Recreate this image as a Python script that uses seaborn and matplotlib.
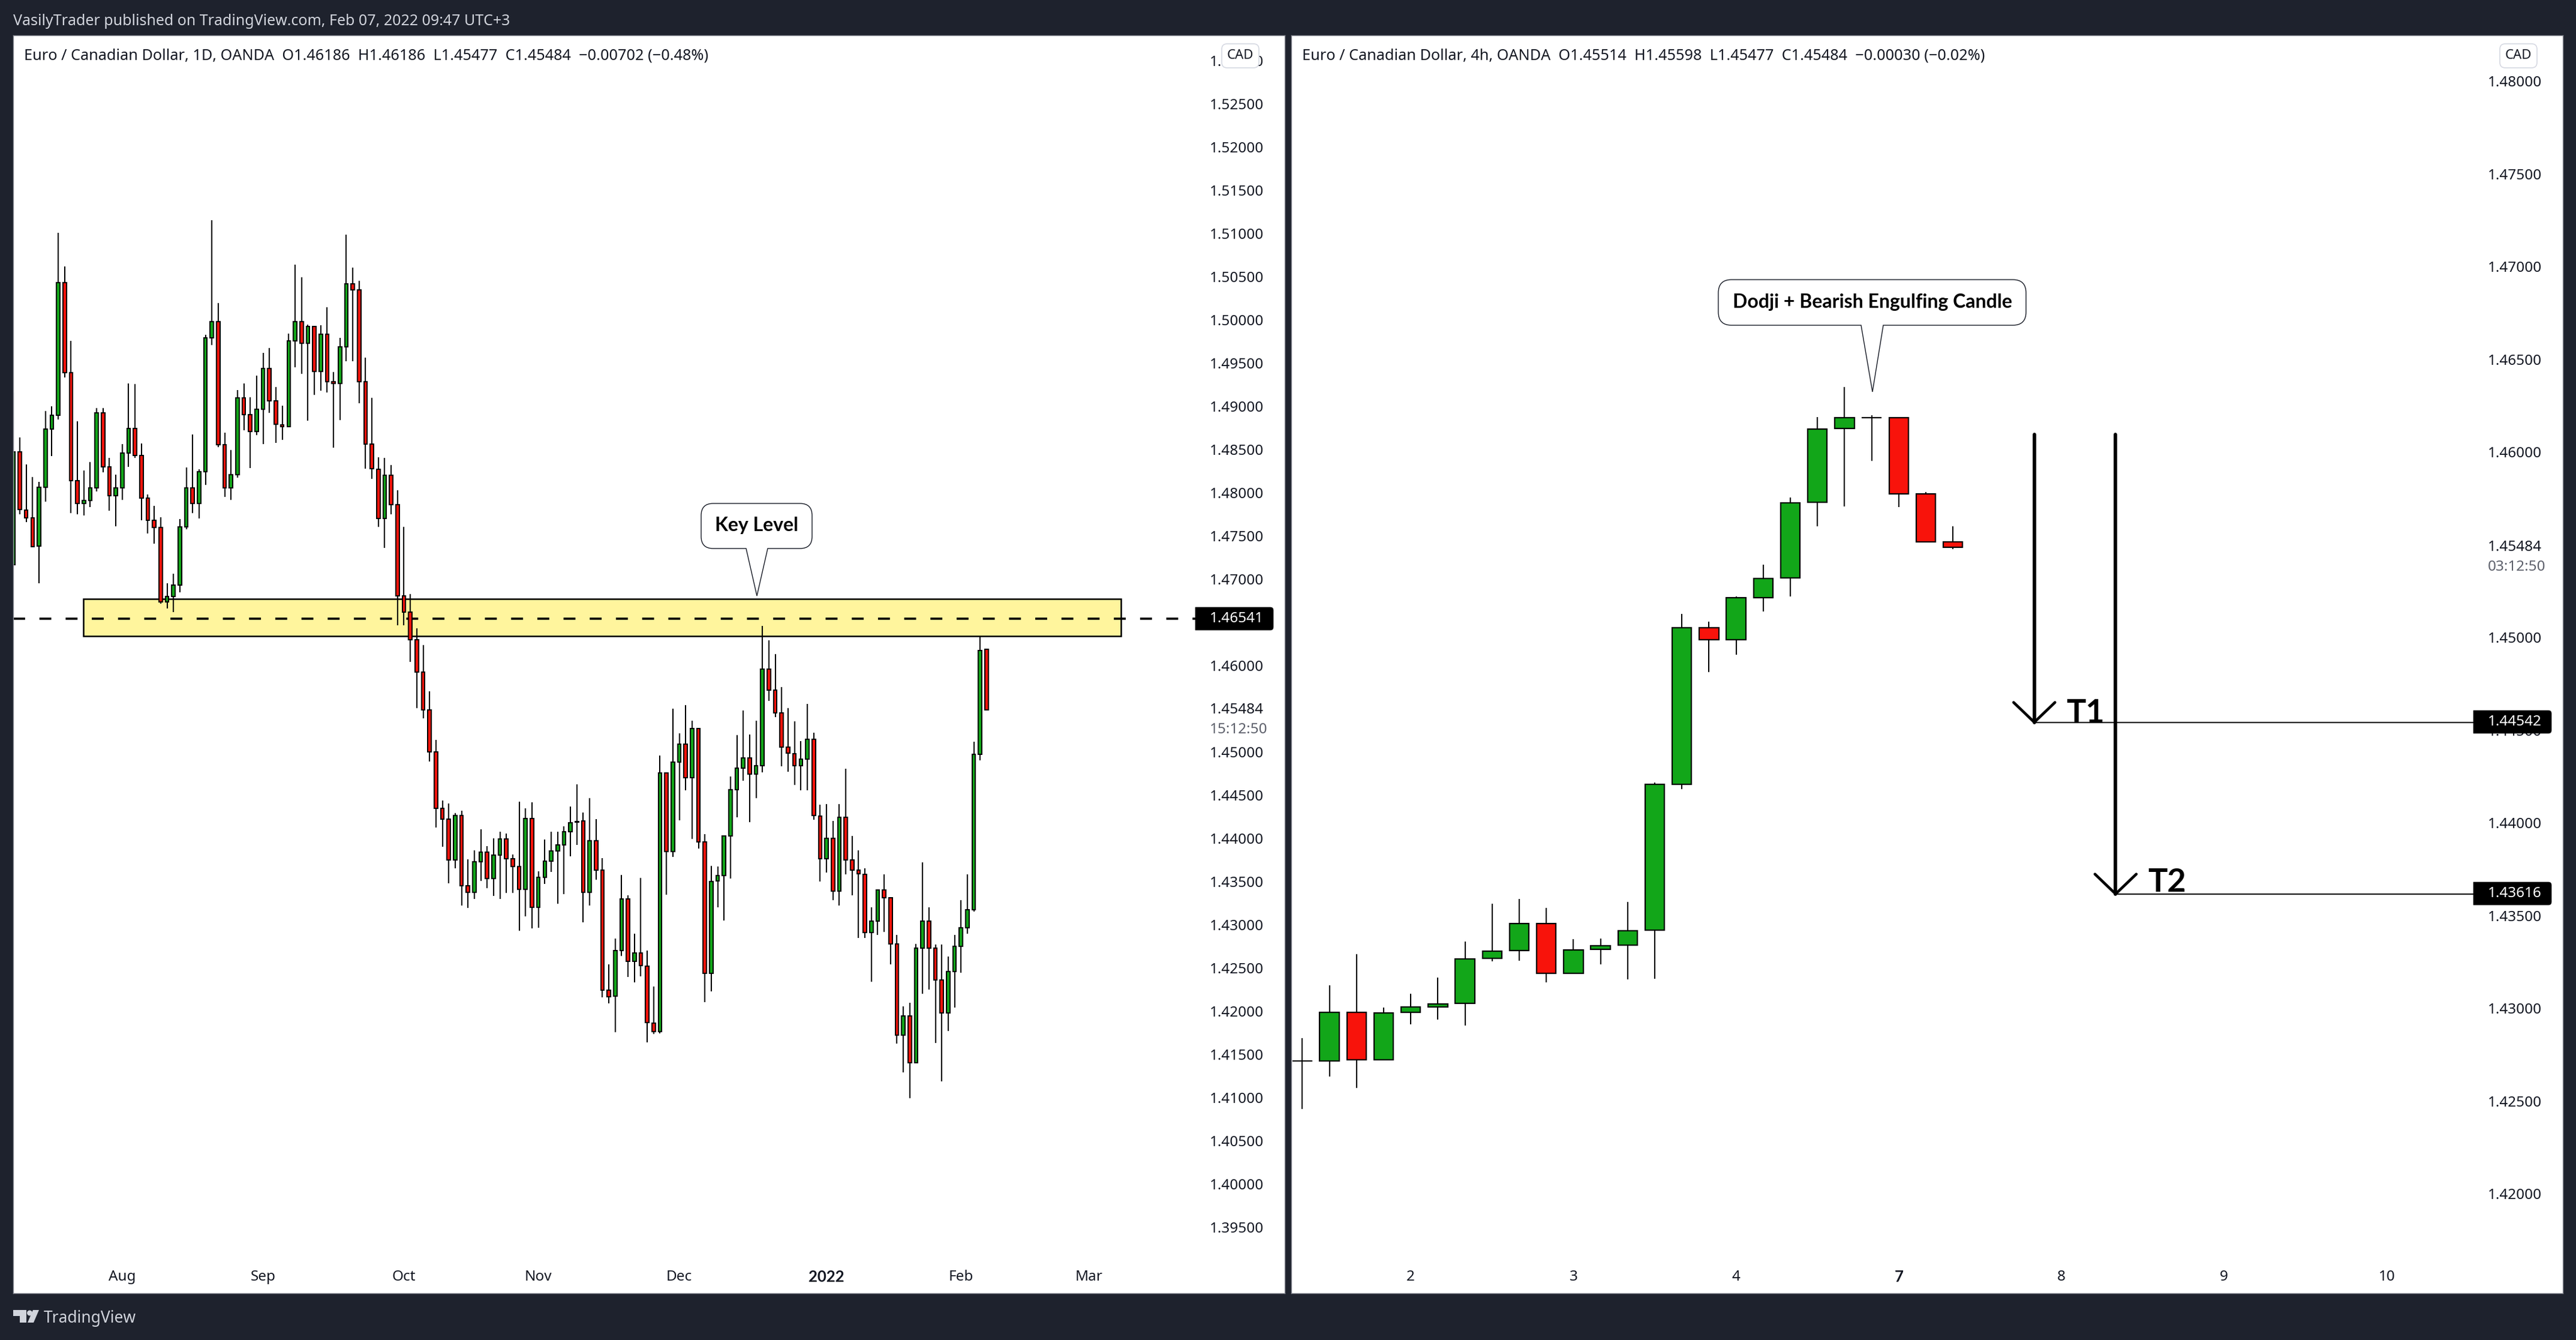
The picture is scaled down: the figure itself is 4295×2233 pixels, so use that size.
import numpy as np
import matplotlib
matplotlib.use("Agg")
import matplotlib.pyplot as plt
from matplotlib.path import Path
from matplotlib.patches import PathPatch, Rectangle, Circle, Polygon
from matplotlib.transforms import Affine2D
import seaborn as sns

# ---------- daily chart values (prices) ----------
d1_open = [1.47168,1.48472,1.47802,1.47707,1.47381,1.48064,1.48734,1.48897,1.50428,1.49386,
 1.48142,1.47877,1.47912,1.48054,1.48922,1.48302,1.47962,1.48054,1.48461,1.48741,
 1.48433,1.47940,1.47678,1.47600,1.46736,1.46796,1.46934,1.47607,1.48057,1.47877,
 1.48245,1.49790,1.49978,1.48553,1.48054,1.48206,1.49099,1.48900,1.48706,1.48968,
 1.49436,1.49060,1.48787,1.48766,1.49754,1.49978,1.49730,1.49921,1.49400,1.49836,
 1.49287,1.49265,1.49691,1.50420,1.50350,1.49287,1.48564,1.48273,1.47703,1.48199,
 1.47859,1.46807,1.46615,1.46296,1.45921,1.45489,1.45000,1.44348,1.44224,1.43753,
 1.44266,1.43448,1.43373,1.43731,1.43838,1.43533,1.43809,1.43990,1.43767,1.43671,
 1.43412,1.44227,1.43200,1.43551,1.43738,1.43852,1.43926,1.44078,1.44195,1.44199,
 1.43373,1.43969,1.43632,1.42240,1.42173,1.42704,1.43296,1.42576,1.42676,1.42523,
 1.41864,1.41765,1.44759,1.43848,1.44879,1.45088,1.44702,1.45269,1.43955,1.42438,
 1.43505,1.43572,1.44026,1.44561,1.44812,1.44933,1.44741,1.44837,1.45960,1.45712,
 1.45450,1.45053,1.44982,1.44837,1.44915,1.45149,1.44259,1.43767,1.43997,1.43388,
 1.44245,1.43753,1.43629,1.43586,1.42910,1.43044,1.43406,1.43310,1.42775,1.41723,
 1.41942,1.41404,1.42732,1.43044,1.42732,1.42364,1.41981,1.42456,1.42747,1.42963,
 1.43172,1.44975,1.46186]
d1_high = [1.49163,1.48642,1.48330,1.48181,1.48125,1.48943,1.49000,1.51009,1.50619,1.49758,
 1.48826,1.48256,1.48355,1.48978,1.48978,1.48404,1.48210,1.48564,1.49265,1.49258,
 1.48571,1.47976,1.47848,1.47714,1.46952,1.47062,1.47696,1.48291,1.48674,1.48270,
 1.49829,1.51154,1.50194,1.48695,1.48493,1.49187,1.49265,1.49102,1.49354,1.49620,
 1.49673,1.49223,1.49007,1.49839,1.50640,1.50491,1.49946,1.49921,1.49939,1.50144,
 1.49397,1.49793,1.50987,1.50605,1.50452,1.49563,1.49099,1.48408,1.48404,1.48319,
 1.48029,1.47604,1.46828,1.46431,1.46236,1.45701,1.45138,1.44436,1.44404,1.44291,
 1.44319,1.43756,1.43862,1.44103,1.43908,1.44001,1.44075,1.44057,1.43813,1.44422,
 1.44348,1.44415,1.43618,1.43986,1.44075,1.44075,1.44139,1.44369,1.44624,1.44298,
 1.44465,1.44224,1.43770,1.42541,1.42842,1.43576,1.43342,1.42895,1.43544,1.42700,
 1.42286,1.44957,1.44759,1.45499,1.45216,1.45542,1.45361,1.45269,1.44050,1.43682,
 1.43675,1.44026,1.44716,1.45195,1.45478,1.45202,1.45361,1.46456,1.46293,1.46134,
 1.45751,1.45507,1.45354,1.45124,1.45556,1.45223,1.44390,1.44398,1.44203,1.44398,
 1.44805,1.44029,1.43863,1.43654,1.43200,1.43406,1.43583,1.43310,1.42881,1.42059,
 1.42098,1.42778,1.43721,1.43200,1.42771,1.42771,1.42633,1.42881,1.43285,1.43583,
 1.45117,1.46339,1.46186]
d1_low = [1.47136,1.47749,1.47657,1.47366,1.46955,1.47898,1.48422,1.48847,1.49333,1.47763,
 1.47749,1.47735,1.47834,1.48015,1.48234,1.47792,1.47611,1.47916,1.48298,1.48404,
 1.47678,1.47529,1.47409,1.46714,1.46658,1.46615,1.46846,1.47579,1.47763,1.47703,
 1.48089,1.49708,1.48525,1.47951,1.47916,1.48174,1.48723,1.48284,1.48667,1.48564,
 1.48925,1.48578,1.48610,1.48755,1.49450,1.49375,1.48833,1.49131,1.49180,1.49159,
 1.48521,1.48840,1.49521,1.49521,1.49032,1.48277,1.48160,1.47604,1.47363,1.47749,
 1.46463,1.46463,1.46041,1.45510,1.45386,1.44886,1.44128,1.43905,1.43476,1.43650,
 1.43225,1.43193,1.43296,1.43505,1.43427,1.43331,1.43296,1.43366,1.43366,1.42934,
 1.43094,1.42955,1.42962,1.43469,1.43614,1.43246,1.43352,1.43795,1.43923,1.43030,
 1.43225,1.43519,1.42162,1.42087,1.41754,1.42637,1.42399,1.42336,1.42406,1.41638,
 1.41733,1.41740,1.43345,1.43788,1.44206,1.44553,1.43990,1.43880,1.42102,1.42229,
 1.43200,1.43051,1.43533,1.44242,1.44670,1.44189,1.44468,1.44766,1.45588,1.45400,
 1.44830,1.44773,1.44621,1.44553,1.44553,1.44213,1.43498,1.43607,1.43282,1.43225,
 1.43586,1.43338,1.42846,1.42846,1.42343,1.42885,1.42920,1.42545,1.41623,1.41290,
 1.40996,1.41393,1.42204,1.42247,1.41630,1.41184,1.41769,1.42045,1.42442,1.42899,
 1.43150,1.44901,1.45477]
d1_close = [1.48472,1.47806,1.47707,1.47377,1.48064,1.48734,1.48893,1.50428,1.49386,1.48142,
 1.47877,1.47912,1.48054,1.48922,1.48302,1.47962,1.48054,1.48461,1.48741,1.48433,
 1.47940,1.47678,1.47600,1.46736,1.46796,1.46934,1.47607,1.48057,1.47877,1.48245,
 1.49790,1.49978,1.48553,1.48054,1.48206,1.49099,1.48904,1.48706,1.48968,1.49436,
 1.49060,1.48791,1.48766,1.49754,1.49978,1.49730,1.49921,1.49400,1.49836,1.49287,
 1.49265,1.49687,1.50420,1.50350,1.49287,1.48564,1.48277,1.47703,1.48199,1.47862,
 1.46807,1.46619,1.46296,1.45921,1.45489,1.45000,1.44348,1.44224,1.43753,1.44266,
 1.43448,1.43373,1.43731,1.43838,1.43533,1.43809,1.43990,1.43767,1.43671,1.43412,
 1.44227,1.43200,1.43551,1.43738,1.43852,1.43926,1.44078,1.44178,1.44185,1.43373,
 1.43969,1.43632,1.42240,1.42169,1.42704,1.43296,1.42576,1.42676,1.42527,1.41868,
 1.41765,1.44759,1.43848,1.44879,1.45088,1.44702,1.45269,1.43958,1.42438,1.43501,
 1.43572,1.44026,1.44561,1.44812,1.44933,1.44741,1.44837,1.45960,1.45716,1.45450,
 1.45057,1.44986,1.44837,1.44915,1.45149,1.44263,1.43767,1.43997,1.43388,1.44245,
 1.43753,1.43629,1.43590,1.42910,1.43044,1.43406,1.43310,1.42775,1.41723,1.41942,
 1.41404,1.42732,1.43044,1.42732,1.42364,1.41981,1.42456,1.42747,1.42963,1.43172,
 1.44975,1.46176,1.45484]

# ---------- 4h chart values (prices) ----------
h4_open = [1.42717,1.42717,1.42978,1.42722,1.42978,1.43008,1.43026,1.43269,1.43310,1.43455,1.43188,1.43317,1.43340,
 1.43421,1.44208,1.45052,1.44987,1.45214,1.45320,1.45729,1.46126,1.46185,1.46185,1.45772,1.45514]
h4_high = [1.42838,1.43124,1.43292,1.43003,1.43077,1.43165,1.43360,1.43563,1.43589,1.43541,1.43373,1.43376,1.43573,
 1.44217,1.45126,1.45084,1.45221,1.45392,1.45755,1.46187,1.46350,1.46197,1.46185,1.45782,1.45598]
h4_low = [1.42455,1.42630,1.42569,1.42722,1.42914,1.42940,1.42907,1.43251,1.43257,1.43138,1.43188,1.43237,1.43157,
 1.43160,1.44180,1.44811,1.44905,1.45138,1.45221,1.45600,1.45704,1.45952,1.45701,1.45515,1.45477]
h4_close = [1.42717,1.42978,1.42722,1.42975,1.43008,1.43024,1.43267,1.43308,1.43455,1.43188,1.43315,1.43338,1.43419,
 1.44208,1.45052,1.44987,1.45213,1.45318,1.45726,1.46124,1.46184,1.46185,1.45773,1.45515,1.45484]

# ---------- axis labels and levels ----------
d1_yticks = [1.395,1.40,1.405,1.41,1.415,1.42,1.425,1.43,1.435,1.44,1.445,1.45,1.46,1.47,1.475,1.48,
             1.485,1.49,1.495,1.50,1.505,1.51,1.515,1.52,1.525,1.53]
h4_yticks = [1.42,1.425,1.43,1.435,1.44,1.445,1.45,1.46,1.465,1.47,1.475,1.48]
d1_xticks = [17,39,61,82,104,127,148,168]
d1_xlabels = ["Aug","Sep","Oct","Nov","Dec","2022","Feb","Mar"]
h4_xticks = [4,10,16,22,28,34,40]
h4_xlabels = ["2","3","4","7","8","9","10"]
key_level = 1.46541
zone_top, zone_bottom = 1.46774, 1.46340
t1_level, t2_level = 1.44542, 1.43616
arrow_top = 1.46094

W, H = 4295, 2233
DPI = 100
GREEN, RED = "#12a619", "#f8130b"
BG, LIGHT, INK = "#1e222d", "#d1d4dc", "#131722"
FONT, BOLD = "Noto Sans", "Lato"

sns.set_theme(style="white", rc={"font.family": FONT, "axes.grid": False, "figure.facecolor": BG,
                                 "axes.edgecolor": "#8a8d96", "axes.linewidth": 1.0,
                                 "xtick.color": INK, "ytick.color": INK})

fig = plt.figure(figsize=(W/DPI, H/DPI), dpi=DPI, facecolor=BG)
PX = Affine2D().scale(1, -1).translate(0, H)   # screen pixels, origin top-left


def panel(x0, y0, x1, y1):
    return fig.add_axes([x0/W, 1-y1/H, (x1-x0)/W, (y1-y0)/H])


def candles(ax, o, h, l, c, width, lw_body, lw_wick):
    o, h, l, c = map(np.asarray, (o, h, l, c))
    idx = np.arange(len(o))
    ax.vlines(idx, l, h, color="black", lw=lw_wick, zorder=1)
    sns.barplot(x=idx, y=np.abs(c-o), bottom=np.minimum(o, c), native_scale=True, errorbar=None,
                width=width, color=GREEN, saturation=1, edgecolor="black", linewidth=lw_body,
                zorder=2, ax=ax)
    for patch, op, cl in zip(ax.patches, o, c):
        patch.set_facecolor(RED if cl < op else GREEN)
    ax.set(xlabel="", ylabel="")


def axes_style(ax, xlim, ylim, yticks, xticks, xlabels, bold):
    ax.set_xlim(*xlim)
    ax.set_ylim(*ylim)
    ax.yaxis.tick_right()
    ax.set_yticks(yticks)
    ax.set_yticklabels([f"{t:.5f}" for t in yticks])
    ax.set_xticks(xticks)
    ax.set_xticklabels(xlabels)
    ax.tick_params(axis="y", length=0, pad=-90, labelsize=17.5)
    ax.tick_params(axis="x", length=0, pad=-28, labelsize=17.5)
    lab = ax.get_xticklabels()[bold]
    lab.set_fontfamily(BOLD)
    lab.set_fontweight("bold")
    lab.set_fontsize(18.5)
    ax.set_facecolor("white")


def round_box(x0, y0, x1, y1, rl, rr, tail=None):
    v = [(x0+rl, y0), (x1-rr, y0), (x1, y0), (x1, y0+rr), (x1, y1-rr), (x1, y1), (x1-rr, y1)]
    c = [Path.MOVETO, Path.LINETO, Path.CURVE3, Path.CURVE3, Path.LINETO, Path.CURVE3, Path.CURVE3]
    if tail:
        tx0, tx1, tipx, tipy = tail
        v += [(tx1, y1), (tipx, tipy), (tx0, y1)]
        c += [Path.LINETO]*3
    v += [(x0+rl, y1), (x0, y1), (x0, y1-rl), (x0, y0+rl), (x0, y0), (x0+rl, y0), (x0+rl, y0)]
    c += [Path.LINETO, Path.CURVE3, Path.CURVE3, Path.LINETO, Path.CURVE3, Path.CURVE3, Path.CLOSEPOLY]
    return Path(v, c)


def px_text(x, y, s, **kw):
    kw.setdefault("color", INK)
    kw.setdefault("va", "center")
    kw.setdefault("zorder", 8)
    return fig.text(x, y, s, transform=PX, **kw)


def px_patch(path, fc, ec, lw, z=6):
    fig.add_artist(PathPatch(path, facecolor=fc, edgecolor=ec, lw=lw, transform=PX, zorder=z))


def price_badge(x0, x1, yc, label):
    px_patch(round_box(x0, yc-19, x1, yc+19, 0, 5), "black", "black", 0.5)
    px_text(x0+24, yc, label, color="white", fontsize=17.5)


# ---------- daily panel ----------
ax1 = panel(22, 59, 2142, 2155)
d1_step = 10.675
candles(ax1, d1_open, d1_high, d1_low, d1_close, 0.53, 1.45, 1.5)
d1_xlim = (-0.03, (2142-22.3)/d1_step)
axes_style(ax1, d1_xlim, (1.38736, 1.53292), d1_yticks, d1_xticks, d1_xlabels, 5)
ax1.add_patch(Rectangle((10.93, zone_bottom), 173.0-10.93, zone_top-zone_bottom, facecolor="#fff59d",
                        edgecolor="black", lw=1.8, zorder=0.5))
sns.lineplot(x=[d1_xlim[0], (1993-22.3)/d1_step], y=[key_level, key_level], color="black", lw=2.6,
             dashes=False, zorder=0.8, ax=ax1, errorbar=None).lines[-1].set_dashes((5.5, 6.6))
ax1.set(xlabel="", ylabel="")

# ---------- 4h panel ----------
ax2 = panel(2153, 59, 4273, 2155)
h4_step = 45.2
candles(ax2, h4_open, h4_high, h4_low, h4_close, 0.72, 1.6, 1.5)
axes_style(ax2, ((2153-2171.4)/h4_step, (4273-2171.4)/h4_step), (1.41463, 1.48246),
           h4_yticks, h4_xticks, h4_xlabels, 3)
line_end = (4124-2171.4)/h4_step
head_dx, head_dy = 0.763, 0.00107
for xi, lvl in ((27, t1_level), (30, t2_level)):
    ax2.plot([xi, line_end], [lvl, lvl], color="black", lw=1.5, zorder=3)
    ax2.plot([xi, xi], [arrow_top, lvl], color="black", lw=4.2, zorder=3)
    ax2.plot([xi-head_dx, xi, xi+head_dx], [lvl+head_dy, lvl, lvl+head_dy], color="black", lw=3.3,
             zorder=3, solid_joinstyle="round")

# ---------- annotations ----------
px_text(22, 35, "VasilyTrader published on TradingView.com, Feb 07, 2022 09:47 UTC+3", color=LIGHT, fontsize=18)
px_text(40, 93, "Euro / Canadian Dollar, 1D, OANDA  O1.46186  H1.46186  L1.45477  C1.45484  \u22120.00702 (\u22120.48%)",
        fontsize=18.2)
px_text(2171, 93, "Euro / Canadian Dollar, 4h, OANDA  O1.45514  H1.45598  L1.45477  C1.45484  \u22120.00030 (\u22120.02%)",
        fontsize=18.2)

for x0 in (2037, 4168):
    px_patch(round_box(x0, 73, x0+62, 113, 9, 9), "white", "#d6d9e2", 1.2)
    px_text(x0+31, 92, "CAD", ha="center", fontsize=16)

price_badge(1993, 2123, 1031, f"{key_level:.5f}")
price_badge(4124, 4254, 1203, f"{t1_level:.5f}")
price_badge(4124, 4254, 1489, f"{t2_level:.5f}")

px_text(2017, 1183, "1.45484", fontsize=17.5)
px_text(2017, 1216, "15:12:50", fontsize=17.5, color="#5d606b")
px_text(4148, 912, "1.45484", fontsize=17.5)
px_text(4148, 945, "03:12:50", fontsize=17.5, color="#5d606b")

px_patch(round_box(1169, 839, 1354, 914, 20, 20, tail=(1244, 1280, 1262, 993)), "white", "#131722", 1.0)
px_text(1261.5, 875, "Key Level", ha="center", fontsize=23, fontweight="bold", family=BOLD, color="black")
px_patch(round_box(2865, 466, 3378, 542, 22, 22, tail=(3103, 3140, 3122, 653)), "white", "#131722", 1.0)
px_text(3121.5, 503, "Dodji + Bearish Engulfing Candle", ha="center", fontsize=23, fontweight="bold", family=BOLD,
        color="black")

px_text(3445, 1189, "T1", fontsize=39, color="black", fontweight="bold", family=BOLD)
px_text(3581, 1470, "T2", fontsize=39, color="black", fontweight="bold", family=BOLD)

# footer
fig.add_artist(Polygon([(22, 2183), (44, 2183), (44, 2204), (33, 2204), (33, 2193), (22, 2193)],
                       closed=True, fc=LIGHT, ec="none", transform=PX, zorder=6))
fig.add_artist(Circle((49.5, 2188), 4.5, fc=LIGHT, ec="none", transform=PX, zorder=6))
fig.add_artist(Polygon([(46, 2204), (55, 2183), (65, 2183), (56, 2204)], closed=True, fc=LIGHT, ec="none",
                       transform=PX, zorder=6))
px_text(73, 2197, "TradingView", color=LIGHT, fontsize=19)

fig.savefig("out.png", dpi=DPI, facecolor=BG)
